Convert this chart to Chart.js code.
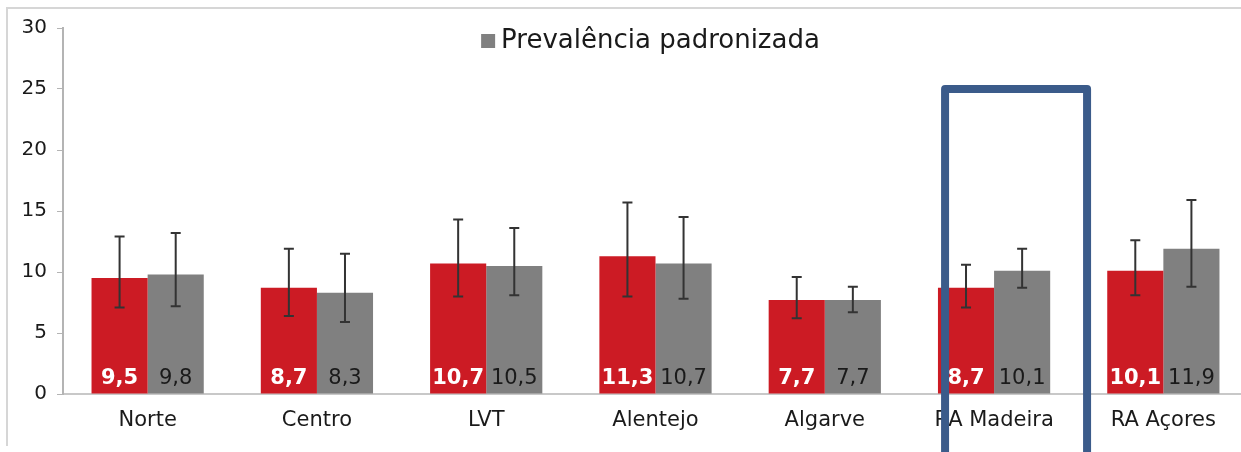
<!DOCTYPE html>
<html>
<head>
<meta charset="utf-8">
<script src="https://cdn.jsdelivr.net/npm/chart.js@4.4.1/dist/chart.umd.min.js"></script>
<style>
    html, body { margin: 0; padding: 0; background: #fff; overflow: hidden; }
    #frame { position: absolute; left: 6px; top: 7px; width: 1240px; height: 437px;
             border-top: 2px solid #d6d6d6; border-left: 2px solid #d6d6d6; }
    #wrap { position: absolute; left: 0; top: 0; width: 1248px; height: 452px; }
</style>
</head>
<body>
<div id="frame"></div>
<div id="wrap"><canvas id="chart"></canvas></div>
<script>
// -----------------------------
// Data
// -----------------------------
const regions = ['Norte', 'Centro', 'LVT', 'Alentejo', 'Algarve', 'RA Madeira', 'RA Açores'];

const bruta      = [9.5, 8.7, 10.7, 11.3, 7.7, 8.7, 10.1];
const brutaLow   = [7.1, 6.4, 8.0, 8.0, 6.2, 7.1, 8.1];
const brutaHigh  = [12.9, 11.9, 14.3, 15.7, 9.6, 10.6, 12.6];

const padron     = [9.8, 8.3, 10.5, 10.7, 7.7, 10.1, 11.9];
const padronLow  = [7.2, 5.9, 8.1, 7.8, 6.7, 8.7, 8.8];
const padronHigh = [13.2, 11.5, 13.6, 14.5, 8.8, 11.9, 15.9];

const yTicks = [0, 5, 10, 15, 20, 25, 30];
const highlightIndex = 5;   // RA Madeira
const highlightTop = 25;

const FONT = 'DejaVu Sans, Verdana, sans-serif';
const fmt = v => v.toFixed(1).replace('.', ',');

// -----------------------------
// Plugins
// -----------------------------
const errorBars = {
    id: 'errorBars',
    afterDatasetsDraw(chart) {
        const ctx = chart.ctx, y = chart.scales.y;
        const bounds = [[brutaLow, brutaHigh], [padronLow, padronHigh]];
        ctx.save();
        ctx.strokeStyle = '#333';
        ctx.lineWidth = 2;
        chart.data.datasets.forEach((ds, di) => {
            chart.getDatasetMeta(di).data.forEach((bar, i) => {
                const lo = y.getPixelForValue(bounds[di][0][i]);
                const hi = y.getPixelForValue(bounds[di][1][i]);
                ctx.beginPath();
                ctx.moveTo(bar.x, lo); ctx.lineTo(bar.x, hi);
                ctx.moveTo(bar.x - 5, lo); ctx.lineTo(bar.x + 5, lo);
                ctx.moveTo(bar.x - 5, hi); ctx.lineTo(bar.x + 5, hi);
                ctx.stroke();
            });
        });
        ctx.restore();
    }
};

const valueLabels = {
    id: 'valueLabels',
    afterDatasetsDraw(chart) {
        const ctx = chart.ctx;
        const base = chart.scales.y.getPixelForValue(0) - 10;
        ctx.save();
        ctx.textAlign = 'center';
        ctx.textBaseline = 'alphabetic';
        chart.data.datasets.forEach((ds, di) => {
            ctx.font = (di === 0 ? 'bold ' : '') + '21px ' + FONT;
            ctx.fillStyle = di === 0 ? '#ffffff' : '#1a1a1a';
            chart.getDatasetMeta(di).data.forEach((bar, i) => {
                ctx.fillText(fmt(ds.data[i]), bar.x, base);
            });
        });
        ctx.restore();
    }
};

// only the standardised series shows in the legend (as in the source figure)
const topLegend = {
    id: 'topLegend',
    afterDraw(chart) {
        const ctx = chart.ctx, area = chart.chartArea;
        const ds = chart.data.datasets[1];
        ctx.save();
        ctx.font = '26px ' + FONT;
        const tw = ctx.measureText(ds.label).width;
        const total = 14 + 6 + tw;
        const left = (area.left + area.right) / 2 - total / 2 - 5;
        const cy = area.top + 13;
        ctx.fillStyle = ds.backgroundColor;
        ctx.fillRect(left, cy - 7, 14, 14);
        ctx.fillStyle = '#1a1a1a';
        ctx.textBaseline = 'middle';
        ctx.fillText(ds.label, left + 20, cy);
        ctx.restore();
    }
};

const highlightBox = {
    id: 'highlightBox',
    afterDraw(chart) {
        const ctx = chart.ctx, x = chart.scales.x, y = chart.scales.y;
        const cx = x.getPixelForValue(highlightIndex) + 22;
        const top = y.getPixelForValue(highlightTop);
        ctx.save();
        ctx.strokeStyle = '#3b5b8a';
        ctx.lineWidth = 8;
        ctx.lineJoin = 'round';
        ctx.beginPath();
        ctx.moveTo(cx - 71, chart.height + 10);
        ctx.lineTo(cx - 71, top);
        ctx.lineTo(cx + 71, top);
        ctx.lineTo(cx + 71, chart.height + 10);
        ctx.stroke();
        ctx.restore();
    }
};

// -----------------------------
// Chart
// -----------------------------
new Chart(document.getElementById('chart'), {
    type: 'bar',
    data: {
        labels: regions,
        datasets: [
            { label: 'Prevalência bruta', data: bruta, backgroundColor: '#cc1b24' },
            { label: 'Prevalência padronizada', data: padron, backgroundColor: '#808080' }
        ]
    },
    options: {
        responsive: true,
        maintainAspectRatio: false,
        animation: false,
        datasets: { bar: { categoryPercentage: 0.663, barPercentage: 1.0 } },
        layout: { padding: { top: 28, left: 0, right: 0, bottom: 0 } },
        plugins: {
            tooltip: { enabled: false },
            legend: { display: false }
        },
        scales: {
            x: {
                grid: { display: false, drawTicks: false },
                border: { display: true, color: '#c8c8c8', width: 2 },
                ticks: { color: '#1a1a1a', padding: 14, font: { family: FONT, size: 21 } },
                afterFit: s => { s.height = 58; }
            },
            y: {
                min: 0, max: 30,
                afterBuildTicks: s => { s.ticks = yTicks.map(v => ({ value: v })); },
                grid: { drawOnChartArea: false, drawTicks: true, tickLength: 6, color: '#b4b4b4' },
                border: { display: true, color: '#b4b4b4', width: 2 },
                ticks: { color: '#1a1a1a', padding: 10, font: { family: FONT, size: 20 } },
                afterFit: s => { s.width = 63; }
            }
        }
    },
    plugins: [errorBars, valueLabels, topLegend, highlightBox]
});
</script>
</body>
</html>
